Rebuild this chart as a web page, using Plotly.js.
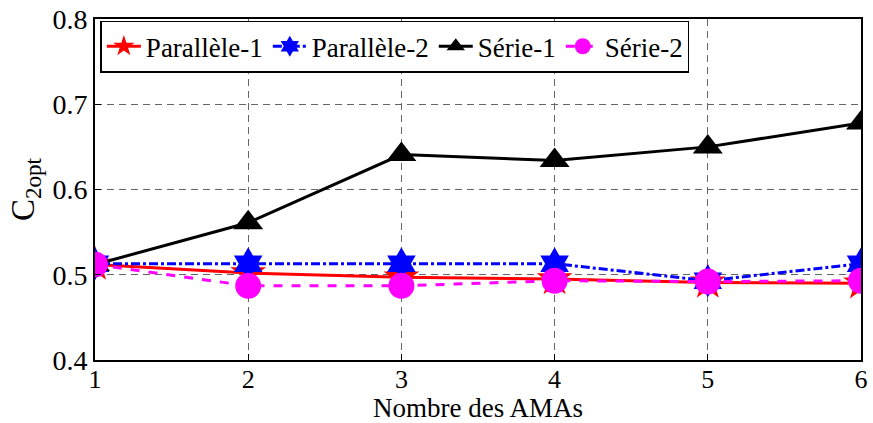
<!DOCTYPE html>
<html><head><meta charset="utf-8">
<script src="https://cdn.plot.ly/plotly-3.0.1.min.js"></script>
<style>body{margin:0}#c{width:873px;height:423px}</style>
</head><body><div id="c"></div>
<script>
const xs = [1, 2, 3, 4, 5, 6];
const par1 = [0.512, 0.502, 0.497, 0.495, 0.491, 0.490];
const par2 = [0.513, 0.513, 0.513, 0.513, 0.493, 0.513];
const serie1 = [0.512, 0.561, 0.641, 0.634, 0.650, 0.678];
const serie2 = [0.512, 0.487, 0.487, 0.493, 0.492, 0.493];
const yTicks = [0.4, 0.5, 0.6, 0.7, 0.8];
const yTickText = ['0.4', '0.5', '0.6', '0.7', '0.8'];
const names = ['Parallèle-1', 'Parallèle-2', 'Série-1', 'Série-2'];
const font = "'Liberation Serif', serif";
const traces = [
  {x: xs, y: par1, name: names[0], mode: 'lines+markers', line: {color: '#ff0000', width: 3, dash: 'solid'}, marker: {symbol: 'star', size: 27, color: '#ff0000'}},
  {x: xs, y: par2, name: names[1], mode: 'lines+markers', line: {color: '#0000ff', width: 3, dash: 'dashdot'}, marker: {symbol: 'hexagram', size: 25, color: '#0000ff'}},
  {x: xs, y: serie1, name: names[2], mode: 'lines+markers', line: {color: '#000000', width: 3, dash: 'solid'}, marker: {symbol: 'triangle-up', size: 26, color: '#000000'}},
  {x: xs, y: serie2, name: names[3], mode: 'lines+markers', line: {color: '#ff00ff', width: 3, dash: 'dash'}, marker: {symbol: 'circle', size: 26, color: '#ff00ff'}}
];
const layout = {
  width: 873, height: 423,
  margin: {l: 95, r: 12, t: 19, b: 63},
  paper_bgcolor: '#fff', plot_bgcolor: '#fff',
  font: {family: font, size: 26, color: '#000'},
  showlegend: true,
  legend: {orientation: 'h', x: 0.007, y: 0.995, xanchor: 'left', yanchor: 'top',
    bgcolor: '#fff', bordercolor: '#000', borderwidth: 1.5, font: {family: font, size: 27},
    itemsizing: 'trace', itemwidth: 34},
  xaxis: {range: [1, 6], tickvals: xs, ticktext: xs.map(String), showline: true, mirror: true,
    linecolor: '#000', linewidth: 2, ticks: 'inside', ticklen: 6, tickcolor: '#000',
    showgrid: true, gridcolor: '#666', griddash: '7px,5px', gridwidth: 1, zeroline: false,
    automargin: false, ticklabelstandoff: -5,
    title: {text: 'Nombre des AMAs', font: {family: font, size: 27}, standoff: 2},
    tickfont: {family: font, size: 26}},
  yaxis: {range: [0.4, 0.8], tickvals: yTicks, ticktext: yTickText,
    showline: true, mirror: true, linecolor: '#000', linewidth: 2, ticks: 'inside', ticklen: 6, tickcolor: '#000',
    showgrid: true, gridcolor: '#666', griddash: '7px,5px', gridwidth: 1, zeroline: false,
    automargin: false,
    title: {text: 'C<sub>2opt</sub>', font: {family: font, size: 33}, standoff: 8},
    tickfont: {family: font, size: 28}}
};
Plotly.newPlot('c', traces, layout, {displayModeBar: false, staticPlot: true});
</script></body></html>
